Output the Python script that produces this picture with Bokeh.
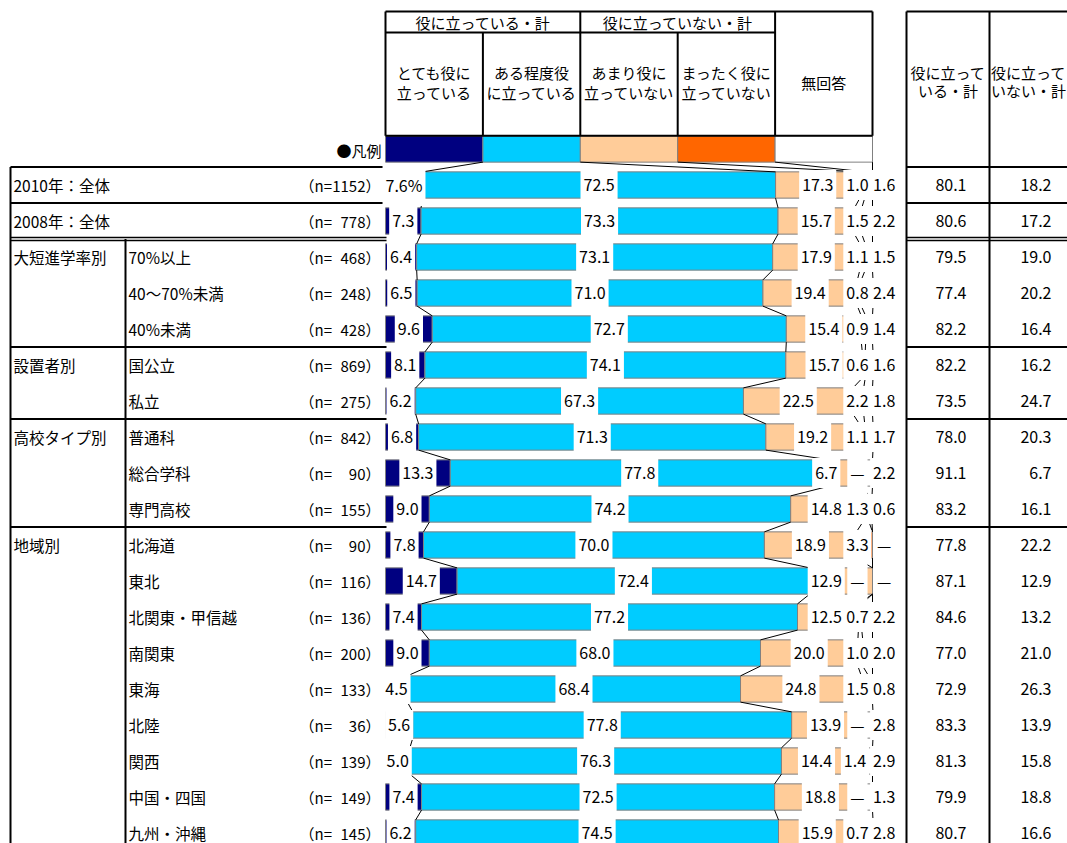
from bokeh.plotting import figure
from bokeh.models import Range1d, ColumnDataSource
from bokeh.core.properties import value
from bokeh.embed import file_html
from bokeh.resources import INLINE

# ---- data -------------------------------------------------------------
series_names = ["とても役に立っている", "ある程度役に立っている",
                "あまり役に立っていない", "まったく役に立っていない", "無回答"]
series_header = [("とても役に", "立っている"), ("ある程度役", "に立っている"),
                 ("あまり役に", "立っていない"), ("まったく役に", "立っていない"),
                 ("無回答",)]
group_headers = ["役に立っている・計", "役に立っていない・計"]
total_headers = [("役に立って", "いる・計"), ("役に立って", "いない・計")]

row_labels = ["2010年：全体", "2008年：全体",
              "70%以上", "40～70%未満", "40%未満",
              "国公立", "私立",
              "普通科", "総合学科", "専門高校",
              "北海道", "東北", "北関東・甲信越", "南関東", "東海",
              "北陸", "関西", "中国・四国", "九州・沖縄"]
n_counts = [1152, 778, 468, 248, 428, 869, 275, 842, 90, 155,
            90, 116, 136, 200, 133, 36, 139, 149, 145]
groups = [("大短進学率別", 2, 4), ("設置者別", 5, 6),
          ("高校タイプ別", 7, 9), ("地域別", 10, 18)]

very_useful = [7.6, 7.3, 6.4, 6.5, 9.6, 8.1, 6.2, 6.8, 13.3, 9.0,
               7.8, 14.7, 7.4, 9.0, 4.5, 5.6, 5.0, 7.4, 6.2]
fairly_useful = [72.5, 73.3, 73.1, 71.0, 72.7, 74.1, 67.3, 71.3, 77.8, 74.2,
                 70.0, 72.4, 77.2, 68.0, 68.4, 77.8, 76.3, 72.5, 74.5]
hardly_useful = [17.3, 15.7, 17.9, 19.4, 15.4, 15.7, 22.5, 19.2, 6.7, 14.8,
                 18.9, 12.9, 12.5, 20.0, 24.8, 13.9, 14.4, 18.8, 15.9]
not_useful = [1.0, 1.5, 1.1, 0.8, 0.9, 0.6, 2.2, 1.1, 0.0, 1.3,
              3.3, 0.0, 0.7, 1.0, 1.5, 0.0, 1.4, 0.0, 0.7]
no_answer = [1.6, 2.2, 1.5, 2.4, 1.4, 1.6, 1.8, 1.7, 2.2, 0.6,
             0.0, 0.0, 2.2, 2.0, 0.8, 2.8, 2.9, 1.3, 2.8]
total_useful = [80.1, 80.6, 79.5, 77.4, 82.2, 82.2, 73.5, 78.0, 91.1, 83.2,
                77.8, 87.1, 84.6, 77.0, 72.9, 83.3, 81.3, 79.9, 80.7]
total_not_useful = [18.2, 17.2, 19.0, 20.2, 16.4, 16.2, 24.7, 20.3, 6.7, 16.1,
                    22.2, 12.9, 13.2, 21.0, 26.3, 13.9, 15.8, 18.8, 16.6]

series_values = [very_useful, fairly_useful, hardly_useful, not_useful, no_answer]
colors = ["#000080", "#00CCFF", "#FFCC99", "#FF6600", "#FFFFFF"]

# ---- page geometry (pixels -> data units) ------------------------------
W, H = 1067, 843
X0, XS = 385.0, 4.87      # 0 % sits at x=385px, 4.87 px per percent
Y0, YS = 184.5, 36.0      # first row centred near y=185px, 36 px per row


def fx(px):
    return (px - X0) / XS


def fy(py):
    return (py - Y0) / YS


JP = value("Noto Sans CJK JP")
BAR_H = 0.73

p = figure(width=W, height=H, output_backend="svg", toolbar_location=None,
           x_range=Range1d(fx(0), fx(W)), y_range=Range1d(fy(H), fy(0)),
           x_axis_type=None, y_axis_type=None, min_border=0)
p.grid.visible = False
p.outline_line_color = None
p.background_fill_color = "white"
p.border_fill_color = "white"

n_rows = len(row_labels)
rows = list(range(n_rows))
legend_row = -1
share = 100.0 / len(series_names)

# cumulative boundaries per row (legend row uses equal shares)
cum = []
for i in rows:
    acc, b = 0.0, []
    for k in range(len(series_values)):
        acc += series_values[k][i]
        b.append(acc)
    cum.append(b)
legend_cum = [share * (k + 1) for k in range(len(series_names))]

# ---- stacked bars -----------------------------------------------------
for k, vals in enumerate(series_values):
    left = [0.0 if k == 0 else cum[i][k - 1] for i in rows]
    right = [cum[i][k] for i in rows]
    src = ColumnDataSource(dict(y=rows + [legend_row],
                                left=left + [share * k],
                                right=right + [legend_cum[k]]))
    p.hbar(y="y", left="left", right="right", height=BAR_H, source=src,
           fill_color=colors[k], line_color="#808080", line_width=1)

# ---- series lines between consecutive bars -----------------------------
all_rows = [legend_row] + rows
all_cum = [legend_cum] + cum
sx0, sy0, sx1, sy1 = [], [], [], []
for j in range(len(all_rows) - 1):
    for k in range(len(series_names)):
        sx0.append(all_cum[j][k]); sy0.append(all_rows[j] + BAR_H / 2)
        sx1.append(all_cum[j + 1][k]); sy1.append(all_rows[j + 1] - BAR_H / 2)
p.segment(x0=sx0, y0=sy0, x1=sx1, y1=sy1, line_color="black", line_width=1)

# ---- table rules --------------------------------------------------------
def hline(x_a, x_b, y, w=2):
    p.segment(x0=[x_a], y0=[y], x1=[x_b], y1=[y], line_color="black", line_width=w)


def vline(x, y_a, y_b, w=2):
    p.segment(x0=[x], y0=[y_a], x1=[x], y1=[y_b], line_color="black", line_width=w)


L_LEFT, L_SUB, L_RIGHT = fx(10), fx(125), fx(386)
R_LEFT, R_MID, R_RIGHT = fx(906), fx(989), fx(W + 2)
TOP, HEAD_SPLIT = fy(11), fy(32)
HEAD_BOTTOM = legend_row - BAR_H / 2
BOTTOM = fy(H + 2)

# header block above the bars
hline(0, 100, TOP)
hline(0, 4 * share, HEAD_SPLIT)
hline(0, 100, HEAD_BOTTOM)
for k in range(len(series_names) + 1):
    x = share * k
    top = HEAD_SPLIT if k in (1, 3) else TOP
    vline(x, top, HEAD_BOTTOM)

# left table
row_sep = [-0.5, 0.5] + [g[2] + 0.5 for g in groups[:-1]]
for y in row_sep:
    hline(L_LEFT, L_RIGHT, y)
for dy in (-0.045, 0.045):
    hline(L_LEFT, L_RIGHT, 1.5 + dy, w=1.5)
vline(L_LEFT, -0.5, BOTTOM)
vline(L_SUB, 1.5, BOTTOM)

# right table
hline(R_LEFT, R_RIGHT, TOP)
for y in row_sep:
    hline(R_LEFT, R_RIGHT, y)
for dy in (-0.045, 0.045):
    hline(R_LEFT, R_RIGHT, 1.5 + dy, w=1.5)
vline(R_LEFT, TOP, BOTTOM)
vline(R_MID, TOP, BOTTOM)

# ---- texts ---------------------------------------------------------------
def txt(x, y, s, align="left", size="15px", baseline="middle"):
    p.text(x=x, y=y, text=s, text_font=JP, text_font_size=size,
           text_align=align, text_baseline=baseline, text_color="black")


# header texts
txt([share * 1, share * 3], [fy(22)] * 2, group_headers, align="center", size="15px")
for k, lines in enumerate(series_header):
    cx = share * (k + 0.5)
    if len(lines) == 1:
        txt([cx], [fy(82)], [lines[0]], align="center", size="15px")
    else:
        txt([cx, cx], [fy(72), fy(92)], list(lines), align="center", size="15px")
txt([fx(381)], [legend_row + 0.05], ["●凡例"], align="right", size="15px")

for j, lines in enumerate(total_headers):
    cx = fx(947.5) if j == 0 else fx(1028)
    txt([cx, cx], [fy(72), fy(90)], list(lines), align="center", size="15px")

# left table labels
top_rows = [0, 1]
txt([fx(13)] * 2, top_rows, [row_labels[i] for i in top_rows], size="15.5px")
sub_rows = rows[2:]
txt([fx(128)] * len(sub_rows), sub_rows, [row_labels[i] for i in sub_rows], size="15.5px")
txt([fx(13)] * len(groups), [g[1] for g in groups], [g[0] for g in groups], size="15.5px")
txt([fx(299)] * n_rows, rows, ["（n="] * n_rows, align="left", size="15px")
txt([fx(380)] * n_rows, rows, ["%d）" % n for n in n_counts], align="right", size="15px")

# right table values
txt([fx(966)] * n_rows, rows, ["%.1f" % v for v in total_useful], align="right", size="16px")
txt([fx(1051)] * n_rows, rows, ["%.1f" % v for v in total_not_useful], align="right", size="16px")

# ---- value labels on the bars (white boxes) ------------------------------
lx, ly, lt = [], [], []
for i in rows:
    for k, vals in enumerate(series_values):
        v = vals[i]
        start = 0.0 if k == 0 else cum[i][k - 1]
        centre = start + v / 2
        if k == 2:
            centre = min(centre, 90.5)
        elif k == 3:
            centre = min(centre, 96.9)
        elif k == 4:
            centre = 102.4
        s = "—" if v == 0 else "%.1f" % v
        if i == 0 and k == 0:
            s += "%"
        lx.append(centre); ly.append(i); lt.append(s)

p.text(x=lx, y=ly, text=lt, text_font=JP, text_font_size="16px",
       text_align="center", text_baseline="middle", text_color="black",
       background_fill_color="white",
       padding=dict(left=3, right=3, top=9, bottom=9))

open("out.html", "w").write(file_html(p, INLINE))
